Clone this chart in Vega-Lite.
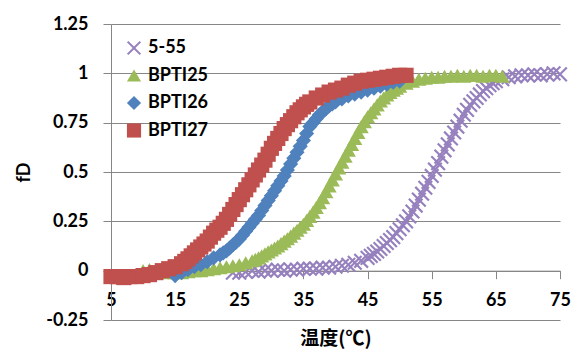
{
"$schema":"https://vega.github.io/schema/vega-lite/v6.json",
"width":449,"height":296,
"autosize":{"type":"none"},
"padding":{"left":111,"top":24,"right":15,"bottom":33},
"background":"white",
"config":{"view":{"stroke":null},"font":"Lato"},
"data":{"values":[
{"s":"5-55","t":24,"f":-0.01},{"s":"5-55","t":25,"f":-0.01},{"s":"5-55","t":26,"f":-0.005},{"s":"5-55","t":27,"f":0.0},{"s":"5-55","t":28,"f":-0.005},{"s":"5-55","t":29,"f":0.0},{"s":"5-55","t":30,"f":0.0},{"s":"5-55","t":31,"f":0.005},{"s":"5-55","t":32,"f":0.0},{"s":"5-55","t":33,"f":0.005},{"s":"5-55","t":34,"f":0.005},{"s":"5-55","t":35,"f":0.01},{"s":"5-55","t":36,"f":0.01},{"s":"5-55","t":37,"f":0.01},{"s":"5-55","t":38,"f":0.015},{"s":"5-55","t":39,"f":0.015},{"s":"5-55","t":40,"f":0.02},{"s":"5-55","t":41,"f":0.025},{"s":"5-55","t":42,"f":0.03},{"s":"5-55","t":43,"f":0.04},{"s":"5-55","t":44,"f":0.05},{"s":"5-55","t":45,"f":0.065},{"s":"5-55","t":45.5,"f":0.075},{"s":"5-55","t":46,"f":0.085},{"s":"5-55","t":46.5,"f":0.097},{"s":"5-55","t":47,"f":0.11},{"s":"5-55","t":47.5,"f":0.125},{"s":"5-55","t":48,"f":0.14},{"s":"5-55","t":48.5,"f":0.155},{"s":"5-55","t":49,"f":0.17},{"s":"5-55","t":49.5,"f":0.19},{"s":"5-55","t":50,"f":0.21},{"s":"5-55","t":50.5,"f":0.23},{"s":"5-55","t":51,"f":0.25},{"s":"5-55","t":51.5,"f":0.275},{"s":"5-55","t":52,"f":0.3},{"s":"5-55","t":52.5,"f":0.33},{"s":"5-55","t":53,"f":0.36},{"s":"5-55","t":53.5,"f":0.39},{"s":"5-55","t":54,"f":0.42},{"s":"5-55","t":54.5,"f":0.45},{"s":"5-55","t":55,"f":0.48},{"s":"5-55","t":55.5,"f":0.512},{"s":"5-55","t":56,"f":0.545},{"s":"5-55","t":56.5,"f":0.578},{"s":"5-55","t":57,"f":0.61},{"s":"5-55","t":57.5,"f":0.64},{"s":"5-55","t":58,"f":0.67},{"s":"5-55","t":58.5,"f":0.7},{"s":"5-55","t":59,"f":0.73},{"s":"5-55","t":59.5,"f":0.76},{"s":"5-55","t":60,"f":0.79},{"s":"5-55","t":60.5,"f":0.815},{"s":"5-55","t":61,"f":0.84},{"s":"5-55","t":61.5,"f":0.858},{"s":"5-55","t":62,"f":0.875},{"s":"5-55","t":62.5,"f":0.893},{"s":"5-55","t":63,"f":0.91},{"s":"5-55","t":63.5,"f":0.925},{"s":"5-55","t":64,"f":0.94},{"s":"5-55","t":64.5,"f":0.95},{"s":"5-55","t":65,"f":0.96},{"s":"5-55","t":66,"f":0.97},{"s":"5-55","t":67,"f":0.98},{"s":"5-55","t":68,"f":0.985},{"s":"5-55","t":69,"f":0.99},{"s":"5-55","t":70,"f":0.99},{"s":"5-55","t":71,"f":0.995},{"s":"5-55","t":72,"f":0.99},{"s":"5-55","t":73,"f":0.995},{"s":"5-55","t":74,"f":1.0},{"s":"5-55","t":75,"f":0.995},
{"s":"BPTI25","t":10,"f":0.0},{"s":"BPTI25","t":11,"f":0.005},{"s":"BPTI25","t":12,"f":0.0},{"s":"BPTI25","t":13,"f":-0.005},{"s":"BPTI25","t":14,"f":-0.01},{"s":"BPTI25","t":15,"f":-0.01},{"s":"BPTI25","t":16,"f":-0.01},{"s":"BPTI25","t":17,"f":-0.005},{"s":"BPTI25","t":18,"f":0.0},{"s":"BPTI25","t":19,"f":0.0},{"s":"BPTI25","t":20,"f":0.005},{"s":"BPTI25","t":21,"f":0.01},{"s":"BPTI25","t":22,"f":0.015},{"s":"BPTI25","t":23,"f":0.02},{"s":"BPTI25","t":24,"f":0.025},{"s":"BPTI25","t":25,"f":0.03},{"s":"BPTI25","t":26,"f":0.04},{"s":"BPTI25","t":27,"f":0.05},{"s":"BPTI25","t":27.5,"f":0.057},{"s":"BPTI25","t":28,"f":0.065},{"s":"BPTI25","t":28.5,"f":0.075},{"s":"BPTI25","t":29,"f":0.085},{"s":"BPTI25","t":29.5,"f":0.095},{"s":"BPTI25","t":30,"f":0.105},{"s":"BPTI25","t":30.5,"f":0.115},{"s":"BPTI25","t":31,"f":0.125},{"s":"BPTI25","t":31.5,"f":0.137},{"s":"BPTI25","t":32,"f":0.15},{"s":"BPTI25","t":32.5,"f":0.162},{"s":"BPTI25","t":33,"f":0.175},{"s":"BPTI25","t":33.5,"f":0.19},{"s":"BPTI25","t":34,"f":0.205},{"s":"BPTI25","t":34.5,"f":0.22},{"s":"BPTI25","t":35,"f":0.235},{"s":"BPTI25","t":35.5,"f":0.255},{"s":"BPTI25","t":36,"f":0.275},{"s":"BPTI25","t":36.5,"f":0.297},{"s":"BPTI25","t":37,"f":0.32},{"s":"BPTI25","t":37.5,"f":0.345},{"s":"BPTI25","t":38,"f":0.37},{"s":"BPTI25","t":38.5,"f":0.4},{"s":"BPTI25","t":39,"f":0.43},{"s":"BPTI25","t":39.5,"f":0.46},{"s":"BPTI25","t":40,"f":0.49},{"s":"BPTI25","t":40.5,"f":0.52},{"s":"BPTI25","t":41,"f":0.55},{"s":"BPTI25","t":41.5,"f":0.58},{"s":"BPTI25","t":42,"f":0.61},{"s":"BPTI25","t":42.5,"f":0.64},{"s":"BPTI25","t":43,"f":0.67},{"s":"BPTI25","t":43.5,"f":0.7},{"s":"BPTI25","t":44,"f":0.73},{"s":"BPTI25","t":44.5,"f":0.755},{"s":"BPTI25","t":45,"f":0.78},{"s":"BPTI25","t":45.5,"f":0.8},{"s":"BPTI25","t":46,"f":0.82},{"s":"BPTI25","t":46.5,"f":0.84},{"s":"BPTI25","t":47,"f":0.86},{"s":"BPTI25","t":47.5,"f":0.875},{"s":"BPTI25","t":48,"f":0.89},{"s":"BPTI25","t":48.5,"f":0.903},{"s":"BPTI25","t":49,"f":0.915},{"s":"BPTI25","t":49.5,"f":0.925},{"s":"BPTI25","t":50,"f":0.935},{"s":"BPTI25","t":51,"f":0.95},{"s":"BPTI25","t":52,"f":0.96},{"s":"BPTI25","t":53,"f":0.97},{"s":"BPTI25","t":54,"f":0.975},{"s":"BPTI25","t":55,"f":0.98},{"s":"BPTI25","t":56,"f":0.98},{"s":"BPTI25","t":57,"f":0.985},{"s":"BPTI25","t":58,"f":0.985},{"s":"BPTI25","t":59,"f":0.99},{"s":"BPTI25","t":60,"f":0.985},{"s":"BPTI25","t":61,"f":0.99},{"s":"BPTI25","t":62,"f":0.99},{"s":"BPTI25","t":63,"f":0.985},{"s":"BPTI25","t":64,"f":0.99},{"s":"BPTI25","t":65,"f":0.99},{"s":"BPTI25","t":66,"f":0.985},
{"s":"BPTI26","t":15,"f":-0.025},{"s":"BPTI26","t":16,"f":-0.01},{"s":"BPTI26","t":17,"f":0.005},{"s":"BPTI26","t":18,"f":0.02},{"s":"BPTI26","t":19,"f":0.03},{"s":"BPTI26","t":20,"f":0.045},{"s":"BPTI26","t":21,"f":0.065},{"s":"BPTI26","t":22,"f":0.08},{"s":"BPTI26","t":22.5,"f":0.09},{"s":"BPTI26","t":23,"f":0.1},{"s":"BPTI26","t":23.5,"f":0.115},{"s":"BPTI26","t":24,"f":0.13},{"s":"BPTI26","t":24.5,"f":0.145},{"s":"BPTI26","t":25,"f":0.16},{"s":"BPTI26","t":25.5,"f":0.18},{"s":"BPTI26","t":26,"f":0.2},{"s":"BPTI26","t":26.5,"f":0.22},{"s":"BPTI26","t":27,"f":0.24},{"s":"BPTI26","t":27.5,"f":0.26},{"s":"BPTI26","t":28,"f":0.28},{"s":"BPTI26","t":28.5,"f":0.305},{"s":"BPTI26","t":29,"f":0.33},{"s":"BPTI26","t":29.5,"f":0.355},{"s":"BPTI26","t":30,"f":0.38},{"s":"BPTI26","t":30.5,"f":0.405},{"s":"BPTI26","t":31,"f":0.43},{"s":"BPTI26","t":31.5,"f":0.455},{"s":"BPTI26","t":32,"f":0.48},{"s":"BPTI26","t":32.5,"f":0.51},{"s":"BPTI26","t":33,"f":0.54},{"s":"BPTI26","t":33.5,"f":0.57},{"s":"BPTI26","t":34,"f":0.6},{"s":"BPTI26","t":34.5,"f":0.63},{"s":"BPTI26","t":35,"f":0.66},{"s":"BPTI26","t":35.5,"f":0.695},{"s":"BPTI26","t":36,"f":0.73},{"s":"BPTI26","t":36.5,"f":0.75},{"s":"BPTI26","t":37,"f":0.77},{"s":"BPTI26","t":37.5,"f":0.79},{"s":"BPTI26","t":38,"f":0.805},{"s":"BPTI26","t":38.5,"f":0.82},{"s":"BPTI26","t":39,"f":0.835},{"s":"BPTI26","t":39.5,"f":0.845},{"s":"BPTI26","t":40,"f":0.855},{"s":"BPTI26","t":41,"f":0.87},{"s":"BPTI26","t":42,"f":0.885},{"s":"BPTI26","t":43,"f":0.895},{"s":"BPTI26","t":44,"f":0.905},{"s":"BPTI26","t":45,"f":0.915},{"s":"BPTI26","t":46,"f":0.925},{"s":"BPTI26","t":47,"f":0.935},{"s":"BPTI26","t":48,"f":0.945},{"s":"BPTI26","t":49,"f":0.955},{"s":"BPTI26","t":50,"f":0.96},
{"s":"BPTI27","t":5,"f":-0.03},{"s":"BPTI27","t":6,"f":-0.03},{"s":"BPTI27","t":7,"f":-0.035},{"s":"BPTI27","t":8,"f":-0.03},{"s":"BPTI27","t":9,"f":-0.03},{"s":"BPTI27","t":10,"f":-0.025},{"s":"BPTI27","t":11,"f":-0.02},{"s":"BPTI27","t":12,"f":-0.01},{"s":"BPTI27","t":13,"f":0.0},{"s":"BPTI27","t":14,"f":0.01},{"s":"BPTI27","t":15,"f":0.02},{"s":"BPTI27","t":16,"f":0.035},{"s":"BPTI27","t":16.5,"f":0.047},{"s":"BPTI27","t":17,"f":0.06},{"s":"BPTI27","t":17.5,"f":0.075},{"s":"BPTI27","t":18,"f":0.09},{"s":"BPTI27","t":18.5,"f":0.105},{"s":"BPTI27","t":19,"f":0.12},{"s":"BPTI27","t":19.5,"f":0.135},{"s":"BPTI27","t":20,"f":0.15},{"s":"BPTI27","t":20.5,"f":0.17},{"s":"BPTI27","t":21,"f":0.19},{"s":"BPTI27","t":21.5,"f":0.205},{"s":"BPTI27","t":22,"f":0.22},{"s":"BPTI27","t":22.5,"f":0.24},{"s":"BPTI27","t":23,"f":0.26},{"s":"BPTI27","t":23.5,"f":0.285},{"s":"BPTI27","t":24,"f":0.31},{"s":"BPTI27","t":24.5,"f":0.335},{"s":"BPTI27","t":25,"f":0.36},{"s":"BPTI27","t":25.5,"f":0.385},{"s":"BPTI27","t":26,"f":0.41},{"s":"BPTI27","t":26.5,"f":0.435},{"s":"BPTI27","t":27,"f":0.46},{"s":"BPTI27","t":27.5,"f":0.485},{"s":"BPTI27","t":28,"f":0.51},{"s":"BPTI27","t":28.5,"f":0.535},{"s":"BPTI27","t":29,"f":0.56},{"s":"BPTI27","t":29.5,"f":0.59},{"s":"BPTI27","t":30,"f":0.62},{"s":"BPTI27","t":30.5,"f":0.645},{"s":"BPTI27","t":31,"f":0.67},{"s":"BPTI27","t":31.5,"f":0.695},{"s":"BPTI27","t":32,"f":0.72},{"s":"BPTI27","t":32.5,"f":0.74},{"s":"BPTI27","t":33,"f":0.76},{"s":"BPTI27","t":33.5,"f":0.78},{"s":"BPTI27","t":34,"f":0.8},{"s":"BPTI27","t":34.5,"f":0.815},{"s":"BPTI27","t":35,"f":0.83},{"s":"BPTI27","t":35.5,"f":0.843},{"s":"BPTI27","t":36,"f":0.855},{"s":"BPTI27","t":37,"f":0.875},{"s":"BPTI27","t":38,"f":0.89},{"s":"BPTI27","t":39,"f":0.905},{"s":"BPTI27","t":40,"f":0.915},{"s":"BPTI27","t":41,"f":0.925},{"s":"BPTI27","t":42,"f":0.94},{"s":"BPTI27","t":43,"f":0.95},{"s":"BPTI27","t":44,"f":0.96},{"s":"BPTI27","t":45,"f":0.965},{"s":"BPTI27","t":46,"f":0.97},{"s":"BPTI27","t":47,"f":0.975},{"s":"BPTI27","t":48,"f":0.98},{"s":"BPTI27","t":49,"f":0.985},{"s":"BPTI27","t":50,"f":0.99},{"s":"BPTI27","t":51,"f":0.99}
]},
"mark":{"type":"point","filled":true,"size":230,"opacity":1,"strokeWidth":0},
"encoding":{
"x":{"field":"t","type":"quantitative","scale":{"domain":[5,75],"nice":false,"zero":false},
"axis":{"values":[5,15,25,35,45,55,65,75],"offset":-49.33,"grid":false,"domainColor":"#868686","tickColor":"#868686","tickSize":8,"labelFont":"Lato","labelFontWeight":"bold","labelFontSize":18,"labelColor":"#000000","labelPadding":13,"labelFlush":false,"title":"温度(℃)","titleFont":"Noto Sans CJK SC","titleFontSize":19,"titleFontWeight":"bold","titleColor":"#000000","titlePadding":20}},
"y":{"field":"f","type":"quantitative","scale":{"domain":[-0.25,1.25],"nice":false,"zero":false},
"axis":{"values":[-0.25,0,0.25,0.5,0.75,1,1.25],"labelExpr":"''+datum.value","grid":true,"gridColor":"#868686","gridWidth":1,"domainColor":"#868686","tickColor":"#868686","tickSize":8,"labelFont":"Lato","labelFontWeight":"bold","labelFontSize":18,"labelColor":"#000000","labelPadding":15,"title":"fD","titleFont":"Lato","titleFontSize":18,"titleFontWeight":"bold","titleColor":"#000000","titlePadding":12}},
"color":{"field":"s","type":"nominal","scale":{"domain":["5-55","BPTI25","BPTI26","BPTI27"],"range":["#9681BE","#9BBB59","#4F81BD","#C0504D"]},
"legend":{"orient":"none","legendX":14,"legendY":15,"title":null,"padding":0,"labelFont":"Lato","labelFontWeight":"bold","labelFontSize":18,"labelColor":"#000000","symbolSize":200,"symbolOpacity":1,"symbolStrokeWidth":0,"rowPadding":9.5,"labelOffset":5}},
"shape":{"field":"s","type":"nominal","scale":{"domain":["5-55","BPTI25","BPTI26","BPTI27"],"range":["M0,-0.2L0.8,-1L1,-0.8L0.2,0L1,0.8L0.8,1L0,0.2L-0.8,1L-1,0.8L-0.2,0L-1,-0.8L-0.8,-1Z","triangle-up","diamond","square"]},
"legend":{"orient":"none","legendX":14,"legendY":15,"title":null,"padding":0,"labelFont":"Lato","labelFontWeight":"bold","labelFontSize":18,"labelColor":"#000000","symbolSize":200,"symbolOpacity":1,"symbolStrokeWidth":0,"rowPadding":9.5,"labelOffset":5}}
}
}
